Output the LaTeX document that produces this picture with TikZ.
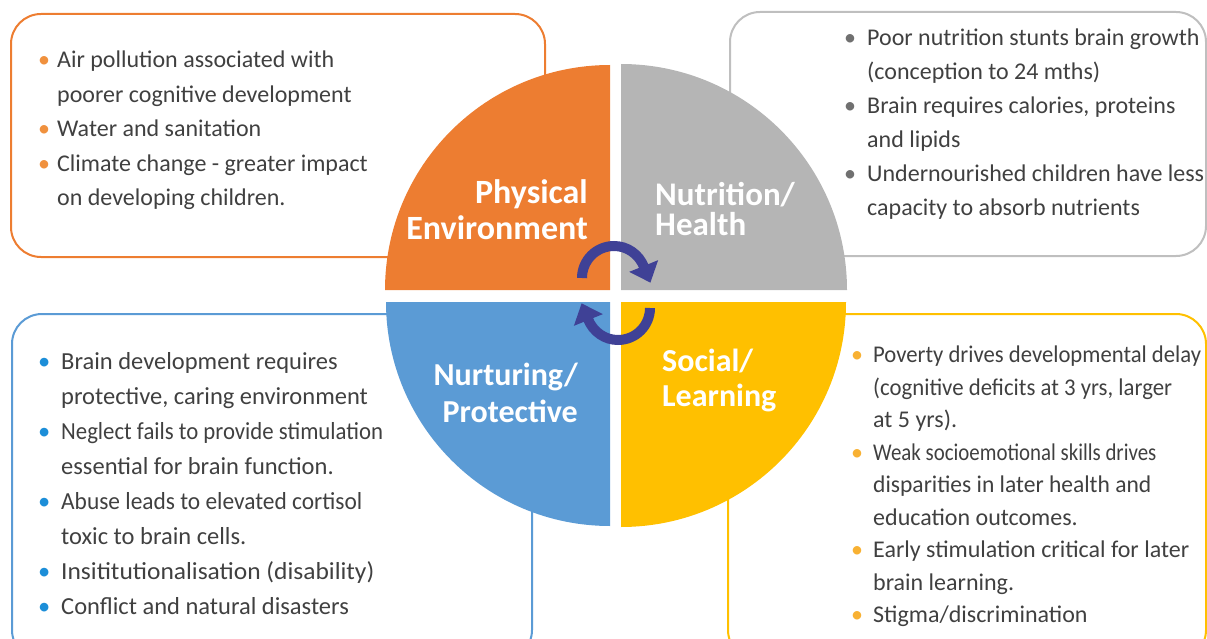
\documentclass[tikz,border=0pt]{standalone}
\usepackage{graphicx}
\usepackage{fontspec}
\setmainfont{Carlito}
\usetikzlibrary{arrows.meta}

\definecolor{physorange}{HTML}{ED7D31}
\definecolor{nutrgray}{HTML}{B5B5B5}
\definecolor{nutrline}{HTML}{BFBFBF}
\definecolor{nurtblue}{HTML}{5B9BD5}
\definecolor{socyellow}{HTML}{FFC000}
\definecolor{turncol}{HTML}{3F4196}
\definecolor{bodytext}{HTML}{404040}
\definecolor{dotorange}{HTML}{F0913E}
\definecolor{dotgray}{HTML}{707070}
\definecolor{dotblue}{HTML}{1C8ED8}
\definecolor{dotyellow}{HTML}{F8B133}

\newcommand{\bul}[2]{\makebox[#2][l]{\textcolor{#1}{\textbullet}}}
\newcommand{\cont}[1]{\hspace*{#1}}
\newcommand{\squeeze}[2]{\scalebox{#1}[1]{#2}}

\begin{document}
\begin{tikzpicture}[x=1pt,y=1pt,
  panel/.style={draw=#1,line width=2pt,rounded corners=30pt},
  items/.style={anchor=north west,inner sep=0pt,align=left,text=bodytext},
  quarter/.style={text=white,inner sep=0pt},
  turnarrow/.style={turncol,line width=10pt,shorten >=-18pt,
    -{Triangle[width=30pt,length=18pt]}}]
\useasboundingbox (0,0) rectangle (1207,-639);

% the four boxes
\draw[panel=physorange] (11,-14) rectangle (545,-257);
\draw[panel=nutrline] (730,-12) rectangle (1206,-256);
\draw[panel=nurtblue] (12,-314) rectangle (532,-660);
\draw[panel=socyellow] (728,-314) rectangle (1206,-660);

% the circle, one quarter each
\fill[physorange] (610,-290) -- (385,-290) arc[start angle=180,end angle=90,radius=225] -- cycle;
\fill[nutrgray] (621,-290) -- (621,-64) arc[start angle=90,end angle=0,radius=226] -- cycle;
\fill[nurtblue] (610,-302) -- (386,-302) arc[start angle=180,end angle=270,radius=224] -- cycle;
\fill[socyellow] (621,-302) -- (846,-302) arc[start angle=0,end angle=-90,radius=225] -- cycle;

\node[quarter,anchor=east,align=right,font=\fontsize{34}{36}\selectfont\bfseries]
  (physlbl) at (588,-210) {Physical\\Environment};
\node[quarter,anchor=west,align=left,font=\fontsize{33}{30}\selectfont\bfseries]
  (nutrlbl) at (655,-209) {Nutrition/\\Health};
\node[quarter,anchor=east,align=right,font=\fontsize{32}{37}\selectfont\bfseries]
  (nurtlbl) at (578,-393) {Nurturing/\\Protective};
\node[quarter,anchor=west,align=left,font=\fontsize{32}{35}\selectfont\bfseries]
  (soclbl) at (662,-380) {Social/\\Learning};

% turning arrows
\coordinate (topturn) at (614,-278);
\coordinate (botturn) at (618,-308);
\draw[turnarrow] ([xshift=-32pt]topturn) arc[start angle=180,end angle=22,radius=32];
\draw[turnarrow] ([xshift=32pt]botturn) arc[start angle=0,end angle=-158,radius=32];

% texts
\node[items,font=\fontsize{24}{34.5}\selectfont] (physitems) at (38,-51) {%
  \bul{dotorange}{19pt}Air pollution associated with\\
  \cont{19pt}poorer cognitive development\\
  \bul{dotorange}{19pt}Water and sanitation\\
  \bul{dotorange}{19pt}Climate change - greater impact\\
  \cont{19pt}on developing children.};
\node[items,font=\fontsize{24}{34}\selectfont] (nutritems) at (844,-29) {%
  \bul{dotgray}{23pt}Poor nutrition stunts brain growth\\
  \cont{23pt}(conception to 24 mths)\\
  \bul{dotgray}{23pt}Brain requires calories, proteins\\
  \cont{23pt}and lipids\\
  \bul{dotgray}{23pt}Undernourished children have less\\
  \cont{23pt}capacity to absorb nutrients};
\node[items,font=\fontsize{24.5}{35}\selectfont] (nurtitems) at (38,-352.5) {%
  \bul{dotblue}{23pt}Brain development requires\\
  \cont{23pt}protective, caring environment\\
  \bul{dotblue}{23pt}\squeeze{0.93}{Neglect fails to provide stimulation}\\
  \cont{23pt}essential for brain function.\\
  \bul{dotblue}{23pt}\squeeze{0.955}{Abuse leads to elevated cortisol}\\
  \cont{23pt}toxic to brain cells.\\
  \bul{dotblue}{23pt}\squeeze{1.04}{Insititutionalisation (disability)}\\
  \bul{dotblue}{23pt}Conflict and natural disasters};
\node[items,font=\fontsize{24}{32.5}\selectfont] (socitems) at (851,-346) {%
  \bul{dotyellow}{22pt}\squeeze{0.945}{Poverty drives developmental delay}\\
  \cont{22pt}\squeeze{0.95}{(cognitive deficits at 3 yrs, larger}\\
  \cont{22pt}at 5 yrs).\\
  \bul{dotyellow}{22pt}\squeeze{0.87}{Weak socioemotional skills drives}\\
  \cont{22pt}\squeeze{0.98}{disparities in later health and}\\
  \cont{22pt}education outcomes.\\
  \bul{dotyellow}{22pt}Early stimulation critical for later\\
  \cont{22pt}brain learning.\\
  \bul{dotyellow}{22pt}Stigma/discrimination};
\end{tikzpicture}
\end{document}
